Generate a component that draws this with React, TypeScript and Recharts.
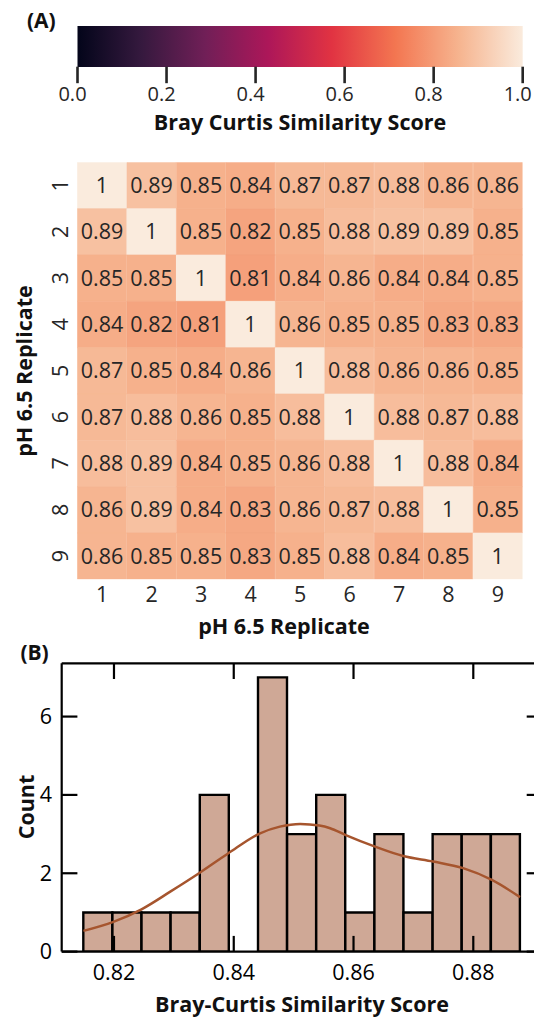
import React from "react";
import {
  ComposedChart,
  BarChart,
  Bar,
  Line,
  XAxis,
  YAxis,
  Cell,
  LabelList,
} from "recharts";

const FONT = "'Open Sans', sans-serif";
const INK = "#262626";

// seaborn "rocket" colormap, sampled
const rocketStops = [0, 0.143, 0.286, 0.429, 0.571, 0.714, 0.857, 1];
const rocketColors = ["#03051a", "#35193e", "#701f57", "#ad1759", "#e13342", "#f37651", "#f6b48f", "#faebdd"];
const colorbarTicks = [0, 0.2, 0.4, 0.6, 0.8, 1.0];
const colorbarRange = [{ name: "score", max: 1 }];

const replicates = ["1", "2", "3", "4", "5", "6", "7", "8", "9"];
const similarity = [
  [1, 0.89, 0.85, 0.84, 0.87, 0.87, 0.88, 0.86, 0.86],
  [0.89, 1, 0.85, 0.82, 0.85, 0.88, 0.89, 0.89, 0.85],
  [0.85, 0.85, 1, 0.81, 0.84, 0.86, 0.84, 0.84, 0.85],
  [0.84, 0.82, 0.81, 1, 0.86, 0.85, 0.85, 0.83, 0.83],
  [0.87, 0.85, 0.84, 0.86, 1, 0.88, 0.86, 0.86, 0.85],
  [0.87, 0.88, 0.86, 0.85, 0.88, 1, 0.88, 0.87, 0.88],
  [0.88, 0.89, 0.84, 0.85, 0.86, 0.88, 1, 0.88, 0.84],
  [0.86, 0.89, 0.84, 0.83, 0.86, 0.87, 0.88, 1, 0.85],
  [0.86, 0.85, 0.85, 0.83, 0.85, 0.88, 0.84, 0.85, 1],
];
const rowTicks = [0.5, 1.5, 2.5, 3.5, 4.5, 5.5, 6.5, 7.5, 8.5];

// histogram of the 36 pairwise scores
const binCenters = [
  0.81731, 0.82217, 0.82703, 0.83189, 0.83676, 0.84162, 0.84648, 0.85134,
  0.8562, 0.86106, 0.86592, 0.87078, 0.87564, 0.8805, 0.88537,
];
const binCounts = [1, 1, 1, 1, 4, 0, 7, 3, 4, 1, 3, 1, 3, 3, 3];

// kde curve
const kdeX = [
  0.8149, 0.8199, 0.8246, 0.8294, 0.8342, 0.8391, 0.8444, 0.8477, 0.8511,
  0.8543, 0.8561, 0.8586, 0.8636, 0.8683, 0.8733, 0.8783, 0.8831, 0.8878,
];
const kdeY = [
  0.53, 0.76, 1.08, 1.53, 2.0, 2.51, 3.02, 3.19, 3.26,
  3.22, 3.15, 2.98, 2.68, 2.44, 2.3, 2.13, 1.83, 1.39,
];

const histXTicks = [0.82, 0.84, 0.86, 0.88];
const histYTicks = [0, 2, 4, 6];
const histXDomain = [0.81127, 0.89154];
const histYDomain = [0, 7.36];

function hexRgb(h: string) {
  return [1, 3, 5].map((i) => parseInt(h.slice(i, i + 2), 16));
}

function rocket(v: number) {
  let i = 0;
  while (i < rocketStops.length - 2 && v > rocketStops[i + 1]) i++;
  const t = (v - rocketStops[i]) / (rocketStops[i + 1] - rocketStops[i]);
  const a = hexRgb(rocketColors[i]);
  const b = hexRgb(rocketColors[i + 1]);
  const c = a.map((av, k) => Math.round(av + (b[k] - av) * t));
  return `rgb(${c.join(",")})`;
}

const numText = { fontFamily: FONT, fontSize: 21.5, fill: INK };
const titleText = { fontFamily: FONT, fontSize: 21.5, fontWeight: 700, fill: "#111" };

// tick mark drawn as a small filled rect, label a little left of it
const colorbarTick = ({ x, y, payload }: any) => (
  <g>
    <rect x={x - 1.3} y={y} width={2.6} height={16.5} fill={INK} />
    <text x={x - 5} y={y + 34.5} textAnchor="middle" {...numText} fontSize={20}>
      {payload.value.toFixed(1)}
    </text>
  </g>
);

function Colorbar() {
  return (
    <BarChart
      layout="vertical"
      width={534}
      height={140}
      data={colorbarRange}
      barCategoryGap={0}
      margin={{ top: 26, right: 11.3, bottom: 72.3, left: 77.5 }}
    >
      <defs>
        <linearGradient id="rocketGrad" x1="0" y1="0" x2="1" y2="0">
          {rocketStops.map((s, i) => (
            <stop key={i} offset={s} stopColor={rocketColors[i]} />
          ))}
        </linearGradient>
      </defs>
      <XAxis
        type="number"
        domain={[0, 1]}
        ticks={colorbarTicks}
        interval={0}
        height={1}
        axisLine={false}
        tickLine={false}
        tickSize={0}
        tickMargin={0}
        tick={colorbarTick}
      />
      <YAxis type="category" dataKey="name" hide />
      <Bar dataKey="max" fill="url(#rocketGrad)" isAnimationActive={false} />
      <text x={27} y={28} {...titleText} fontSize={21}>(A)</text>
      <text x={300} y={129.5} textAnchor="middle" {...titleText}>
        Bray Curtis Similarity Score
      </text>
    </BarChart>
  );
}

const heatXTick = ({ x, y, payload }: any) => (
  <text x={x} y={y + 23} textAnchor="middle" {...numText}>
    {payload.value}
  </text>
);

const heatYTick = ({ x, y, payload }: any) => {
  const cx = x - 17.5;
  return (
    <text
      x={cx}
      y={y}
      transform={`rotate(-90 ${cx} ${y})`}
      textAnchor="middle"
      dominantBaseline="central"
      {...numText}
    >
      {replicates[Math.floor(payload.value)]}
    </text>
  );
};

function Heatmap() {
  const data = replicates.map((c, j) => {
    const row: Record<string, string | number> = { col: c };
    similarity.forEach((r, i) => {
      row[`r${i}`] = r[j];
    });
    return row;
  });
  return (
    <BarChart
      width={534}
      height={510}
      data={data}
      barCategoryGap={0}
      barGap={0}
      margin={{ top: 22.3, right: 11.3, bottom: 69.7, left: 76.5 }}
    >
      <XAxis
        dataKey="col"
        type="category"
        height={1}
        axisLine={false}
        tickLine={false}
        tickSize={0}
        tickMargin={0}
        interval={0}
        tick={heatXTick}
      />
      <YAxis
        type="number"
        domain={[0, 9]}
        reversed
        allowDataOverflow
        ticks={rowTicks}
        interval={0}
        width={1}
        axisLine={false}
        tickLine={false}
        tickSize={0}
        tickMargin={0}
        tick={heatYTick}
      />
      {similarity.map((row, i) => (
        <Bar key={i} dataKey={() => 1} stackId="m" isAnimationActive={false}>
          {row.map((v, j) => (
            <Cell key={j} fill={rocket(v)} stroke={rocket(v)} strokeWidth={0.6} />
          ))}
          <LabelList dataKey={`r${i}`} position="center" {...numText} />
        </Bar>
      ))}
      <text x={284} y={493.5} textAnchor="middle" {...titleText}>
        pH 6.5 Replicate
      </text>
      <text x={32} y={231} transform="rotate(-90 32 231)" textAnchor="middle" {...titleText}>
        pH 6.5 Replicate
      </text>
    </BarChart>
  );
}

const TICK = 15.7;
const spine = { stroke: "#000", strokeWidth: 2.2 };

const histBottomTick = ({ x, y, payload }: any) => (
  <g>
    <line x1={x} x2={x} y1={y} y2={y - TICK} {...spine} />
    <text x={x} y={y + 28.7} textAnchor="middle" {...numText} fill="#000">
      {payload.value.toFixed(2)}
    </text>
  </g>
);
const histTopTick = ({ x, y }: any) => (
  <line x1={x} x2={x} y1={y} y2={y + TICK} {...spine} />
);
const histLeftTick = ({ x, y, payload }: any) => (
  <g>
    <line x1={x} x2={x + TICK} y1={y} y2={y} {...spine} />
    <text x={x - 9.7} y={y + 7.5} textAnchor="end" {...numText} fill="#000">
      {payload.value}
    </text>
  </g>
);
const histRightTick = ({ x, y }: any) => (
  <line x1={x} x2={x - TICK} y1={y} y2={y} {...spine} />
);

function Histogram() {
  const data = binCenters.map((x, i) => ({ x, count: binCounts[i] }));
  const kde = kdeX.map((x, i) => ({ x, y: kdeY[i] }));
  const common = {
    type: "number" as const,
    dataKey: "x",
    domain: histXDomain,
    allowDataOverflow: true,
    ticks: histXTicks,
    interval: 0 as const,
    height: 1,
    tickSize: 0,
    tickMargin: 0,
    tickLine: false,
    axisLine: spine,
  };
  const commonY = {
    type: "number" as const,
    domain: histYDomain,
    allowDataOverflow: true,
    ticks: histYTicks,
    interval: 0 as const,
    width: 1,
    tickSize: 0,
    tickMargin: 0,
    tickLine: false,
    axisLine: spine,
  };
  return (
    <ComposedChart
      width={560}
      height={391}
      data={data}
      barCategoryGap={0}
      barGap={0}
      margin={{ top: 32.3, right: 16.6, bottom: 68.4, left: 60.7 }}
    >
      <XAxis xAxisId="b" orientation="bottom" {...common} tick={histBottomTick} />
      <XAxis xAxisId="t" orientation="top" {...common} tick={histTopTick} />
      <YAxis yAxisId="l" orientation="left" {...commonY} tick={histLeftTick} />
      <YAxis yAxisId="r" orientation="right" {...commonY} tick={histRightTick} />
      <Bar
        xAxisId="b"
        yAxisId="l"
        dataKey="count"
        fill="#cfa896"
        stroke="#000"
        strokeWidth={2.4}
        isAnimationActive={false}
      />
      <Line
        xAxisId="t"
        yAxisId="r"
        data={kde}
        dataKey="y"
        type="monotone"
        stroke="#a6552e"
        strokeWidth={2.5}
        dot={false}
        isAnimationActive={false}
      />
      <text x={20.4} y={30} {...titleText} fontSize={21}>(B)</text>
      <text x={34} y={177} transform="rotate(-90 34 177)" textAnchor="middle" {...titleText}>
        Count
      </text>
      <text x={302} y={381.5} textAnchor="middle" {...titleText}>
        Bray-Curtis Similarity Score
      </text>
    </ComposedChart>
  );
}

export default function App() {
  return (
    <div
      style={{
        position: "absolute",
        left: 0,
        top: 0,
        width: 534,
        height: 1021,
        overflow: "hidden",
        background: "#fff",
      }}
    >
      <div style={{ position: "absolute", left: 0, top: 0 }}>
        <Colorbar />
      </div>
      <div style={{ position: "absolute", left: 0, top: 140 }}>
        <Heatmap />
      </div>
      <div style={{ position: "absolute", left: 0, top: 630 }}>
        <Histogram />
      </div>
    </div>
  );
}
